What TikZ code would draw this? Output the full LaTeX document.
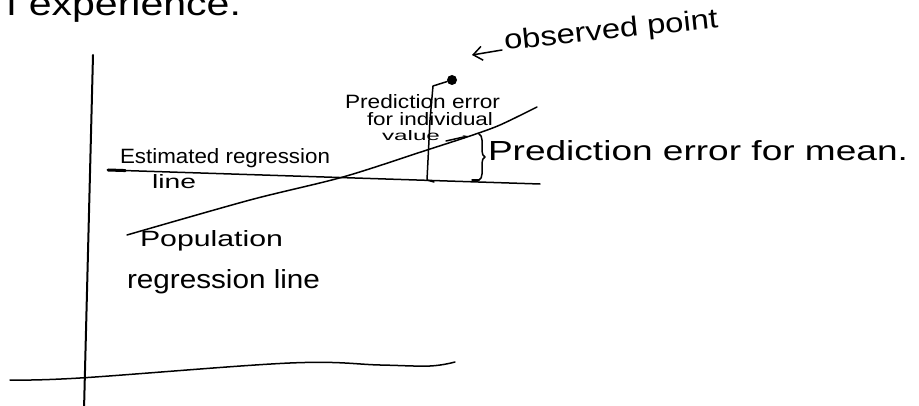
\documentclass[tikz,border=0pt]{standalone}
\usepackage{fontspec}
\setmainfont{Liberation Sans}
\usetikzlibrary{decorations.pathreplacing,arrows.meta,calc}
\newcommand{\fitto}[3]{\resizebox{#1pt}{#2pt}{#3}}
\begin{document}
\begin{tikzpicture}[x=1pt,y=-1pt,
  ink/.style={line width=1.5pt, line cap=round, line join=round},
  lbl/.style={inner sep=0pt, outer sep=0pt, anchor=base west}]
\useasboundingbox[fill=white] (0,0) rectangle (919,406);

% cut-off heading text
\node[lbl] (head) at (6,16) {\fitto{235}{24}{f experience.}};

% axes
\coordinate (yT) at (93,55);
\coordinate (yB) at (84,410);
\coordinate (xL) at (10,380);
\coordinate (xR) at (455,362);
\draw[ink, line width=2pt] (yT) -- (yB);
\draw[ink] plot[smooth, tension=0.6] coordinates {(xL) (80,378) (290,363) (380,365) (430,366) (xR)};

% estimated regression line
\coordinate (eL) at (108,170);
\coordinate (eR) at (540,184);
\draw[ink] (eL) -- (eR);
\draw[line width=3pt, line cap=round] (eL) -- ($(eL)!0.04!(eR)$);

% population regression line
\coordinate (pL) at (127,235);
\coordinate (pR) at (537,107);
\draw[ink] plot[smooth, tension=0.5] coordinates {(pL) (250,200) (343,177) (427,150) (470,136) (500,125) (pR)};

% observed point and individual error
\node[circle, fill=black, inner sep=0pt, minimum size=10pt] (obs) at (452,80) {};
\coordinate (iBot) at (427,180);
\draw[ink] (obs) -- (433,86) -- (430,120) -- (iBot) -- (434,182);

% brace for mean error
\coordinate (bT) at (479,134);
\coordinate (bB) at (479,180);
\draw[ink, decorate, decoration={brace, amplitude=6pt}] (bT) -- (bB);
\draw[ink] (bB) -- (472,180);

% labels
\node[lbl, rotate=6] (obsl) at (505,50) {\fitto{215}{20}{observed point}};
\coordinate (oa) at (502,50);
\coordinate (oaTip) at (472,55);
\draw[ink, -{Straight Barb[length=9pt, width=14pt]}] (oa) -- (oaTip);

\node[lbl] (ind1) at (345,109) {\fitto{155}{14}{Prediction error}};
\node[lbl] (ind2) at (367,126) {\fitto{126}{13}{for individual}};
\node[lbl] (ind3) at (382,141) {\fitto{58}{10}{value}};
\coordinate (va) at (468,136);
\draw[ink, -{Stealth[length=5pt]}] (ind3.base east) ++(6,0) -- (va);

\node[lbl] (mean) at (488,161) {\fitto{420}{20}{Prediction error for mean.}};

\node[lbl] (est1) at (120,164) {\fitto{210}{15}{Estimated regression}};
\node[lbl] (est2) at (152,189) {\fitto{44}{14}{line}};

\node[lbl] (pop1) at (140,247) {\fitto{143}{16}{Population}};
\node[lbl] (pop2) at (127,289) {\fitto{193}{19}{regression line}};
\end{tikzpicture}
\end{document}
